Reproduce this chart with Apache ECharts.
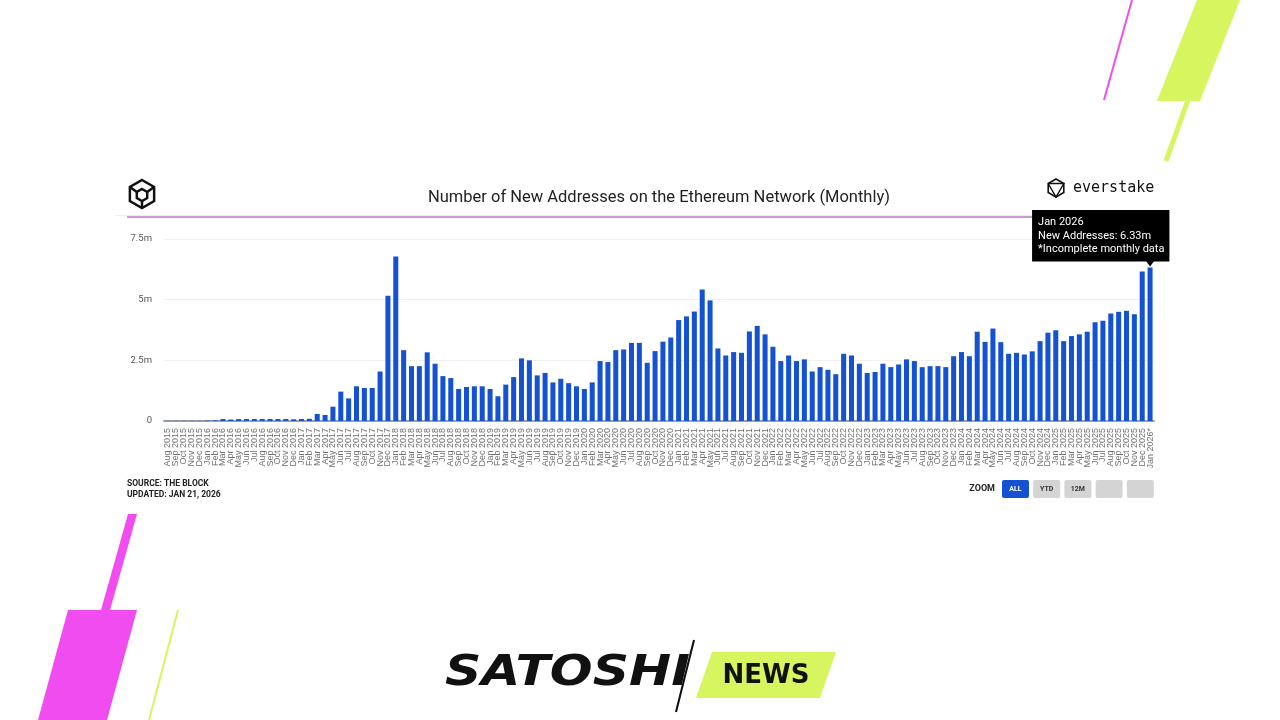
<!DOCTYPE html>
<html>
<head>
<meta charset="utf-8">
<script src="https://cdn.jsdelivr.net/npm/echarts@6/dist/echarts.min.js"></script>
<style>
html,body{margin:0;padding:0;background:#fff;}
#chart{width:1280px;height:720px;}
</style>
</head>
<body>
<div id="chart"></div>
<script>
// Month categories (tick labels)
const categories = [
  'Aug 2015','Sep 2015','Oct 2015','Nov 2015','Dec 2015',
  'Jan 2016','Feb 2016','Mar 2016','Apr 2016','May 2016','Jun 2016','Jul 2016','Aug 2016','Sep 2016','Oct 2016','Nov 2016','Dec 2016',
  'Jan 2017','Feb 2017','Mar 2017','Apr 2017','May 2017','Jun 2017','Jul 2017','Aug 2017','Sep 2017','Oct 2017','Nov 2017','Dec 2017',
  'Jan 2018','Feb 2018','Mar 2018','Apr 2018','May 2018','Jun 2018','Jul 2018','Aug 2018','Sep 2018','Oct 2018','Nov 2018','Dec 2018',
  'Jan 2019','Feb 2019','Mar 2019','Apr 2019','May 2019','Jun 2019','Jul 2019','Aug 2019','Sep 2019','Oct 2019','Nov 2019','Dec 2019',
  'Jan 2020','Feb 2020','Mar 2020','Apr 2020','May 2020','Jun 2020','Jul 2020','Aug 2020','Sep 2020','Oct 2020','Nov 2020','Dec 2020',
  'Jan 2021','Feb 2021','Mar 2021','Apr 2021','May 2021','Jun 2021','Jul 2021','Aug 2021','Sep 2021','Oct 2021','Nov 2021','Dec 2021',
  'Jan 2022','Feb 2022','Mar 2022','Apr 2022','May 2022','Jun 2022','Jul 2022','Aug 2022','Sep 2022','Oct 2022','Nov 2022','Dec 2022',
  'Jan 2023','Feb 2023','Mar 2023','Apr 2023','May 2023','Jun 2023','Jul 2023','Aug 2023','Sep 2023','Oct 2023','Nov 2023','Dec 2023',
  'Jan 2024','Feb 2024','Mar 2024','Apr 2024','May 2024','Jun 2024','Jul 2024','Aug 2024','Sep 2024','Oct 2024','Nov 2024','Dec 2024',
  'Jan 2025','Feb 2025','Mar 2025','Apr 2025','May 2025','Jun 2025','Jul 2025','Aug 2025','Sep 2025','Oct 2025','Nov 2025','Dec 2025',
  'Jan 2026*'
];

// New addresses per month, millions
const newAddresses = [
  0.01,0.01,0.01,0.01,0.01,
  0.02,0.03,0.08,0.06,0.08,0.08,0.08,0.08,0.08,0.08,0.08,0.07,
  0.08,0.09,0.29,0.25,0.59,1.21,0.93,1.43,1.36,1.36,2.04,5.16,
  6.78,2.92,2.26,2.26,2.83,2.36,1.85,1.77,1.32,1.40,1.43,1.43,
  1.32,1.02,1.50,1.81,2.58,2.50,1.88,1.98,1.59,1.74,1.56,1.43,
  1.32,1.59,2.47,2.43,2.92,2.95,3.22,3.22,2.40,2.88,3.27,3.44,
  4.16,4.31,4.51,5.42,4.97,2.99,2.70,2.84,2.81,3.69,3.92,3.57,
  3.06,2.47,2.70,2.47,2.54,2.04,2.22,2.11,1.93,2.77,2.70,2.36,
  1.98,2.02,2.36,2.22,2.33,2.54,2.47,2.22,2.26,2.26,2.22,2.67,
  2.84,2.67,3.68,3.26,3.81,3.25,2.77,2.81,2.74,2.87,3.29,3.64,
  3.74,3.29,3.50,3.57,3.68,4.07,4.13,4.43,4.50,4.54,4.40,6.16,
  6.33
];

// Y-axis ticks
const yTicks = [0, 2.5, 5, 7.5];
const yTickLabels = ['0', '2.5m', '5m', '7.5m'];

const tooltipLines = ['Jan 2026', 'New Addresses: 6.33m', '*Incomplete monthly data'];
const footerLines = ['SOURCE: THE BLOCK', 'UPDATED: JAN 21, 2026'];
const zoomButtons = ['ALL', 'YTD', '12M', '', ''];

const lastIdx = newAddresses.length - 1;
const seriesData = newAddresses.map((v, i) => {
  if (i !== lastIdx) return v;
  return {
    value: v,
    label: {
      show: true,
      position: 'top',
      distance: 6,
      offset: [-118, 0],
      formatter: tooltipLines.join('\n'),
      backgroundColor: '#000',
      color: '#fff',
      fontFamily: 'Roboto, Arial, sans-serif',
      fontSize: 11,
      lineHeight: 13.5,
      align: 'left',
      padding: [6, 5, 5, 6]
    }
  };
});

function hexPts(cx, cy, r) {
  const pts = [];
  for (let k = 0; k < 6; k++) {
    const a = (-90 + 60 * k) * Math.PI / 180;
    pts.push([cx + r * Math.cos(a), cy + r * Math.sin(a)]);
  }
  return pts;
}

const graphics = [];
// decorative shapes
const lime = '#d6f55e', magenta = '#f04cf0';
graphics.push({type:'polygon', shape:{points:[[1197,0],[1240,0],[1200,101],[1157,101]]}, style:{fill:lime}});
graphics.push({type:'line', shape:{x1:1188,y1:100,x2:1166,y2:161}, style:{stroke:lime, lineWidth:5}});
graphics.push({type:'line', shape:{x1:1132,y1:0,x2:1104,y2:100}, style:{stroke:magenta, lineWidth:2}});
graphics.push({type:'polygon', shape:{points:[[128,514],[137,514],[110,610],[101,610]]}, style:{fill:magenta}});
graphics.push({type:'polygon', shape:{points:[[68,610],[137,610],[107,720],[38,720]]}, style:{fill:magenta}});
graphics.push({type:'line', shape:{x1:178,y1:610,x2:149,y2:720}, style:{stroke:lime, lineWidth:2}});

// SATOSHI NEWS logo
graphics.push({type:'text', x:445, y:674, scaleX:1.2, originX:0, originY:0, style:{text:'SATOSHI', fill:'#111', font:'italic 900 42px "DejaVu Sans", sans-serif', textVerticalAlign:'middle', textAlign:'left'}});
graphics.push({type:'line', shape:{x1:694,y1:640,x2:676,y2:712}, style:{stroke:'#111', lineWidth:2}});
graphics.push({type:'polygon', shape:{points:[[712,652],[836,652],[820,698],[696,698]]}, style:{fill:lime}});
graphics.push({type:'text', x:766, y:676, style:{text:'NEWS', fill:'#111', font:'bold 26px "DejaVu Sans", sans-serif', textAlign:'center', textVerticalAlign:'middle'}});

// header line
graphics.push({type:'line', shape:{x1:115,y1:215.5,x2:1165,y2:215.5}, style:{stroke:'#eeeeee', lineWidth:1}});
graphics.push({type:'line', shape:{x1:127,y1:217,x2:1160,y2:217}, style:{stroke:'#cf98d6', lineWidth:2}});

// The Block logo
graphics.push({type:'polygon', shape:{points:hexPts(142,194,14)}, style:{fill:'none', stroke:'#111', lineWidth:2.5}});
graphics.push({type:'polygon', shape:{points:hexPts(142,195,6)}, style:{fill:'none', stroke:'#111', lineWidth:2.5}});
(function(){
  const o = hexPts(142,194,14), inn = hexPts(142,195,6);
  [1,3,5].forEach(k => graphics.push({type:'line', shape:{x1:o[k][0],y1:o[k][1],x2:inn[k][0],y2:inn[k][1]}, style:{stroke:'#111', lineWidth:2.5}}));
})();

// everstake logo
graphics.push({type:'polygon', shape:{points:hexPts(1056,188,9)}, style:{fill:'none', stroke:'#111', lineWidth:1.6}});
(function(){
  const o = hexPts(1056,188,9);
  graphics.push({type:'polyline', shape:{points:[o[5],o[1],o[3],o[5]]}, style:{fill:'none', stroke:'#111', lineWidth:1.4}});
})();
graphics.push({type:'text', x:1073, y:188, style:{text:'everstake', fill:'#111', font:'15px "DejaVu Sans Mono", monospace', textVerticalAlign:'middle'}});

// footer
footerLines.forEach((t, i) => graphics.push({type:'text', x:127, y:484 + i*10.5, style:{text:t, fill:'#222', font:'bold 8.5px Roboto, Arial, sans-serif', textVerticalAlign:'middle'}}));
graphics.push({type:'text', x:995, y:489, style:{text:'ZOOM', fill:'#222', font:'bold 9px Roboto, Arial, sans-serif', textAlign:'right', textVerticalAlign:'middle'}});
zoomButtons.forEach((t, i) => {
  const x = 1002 + i*31.2;
  graphics.push({type:'rect', shape:{x:x, y:480, width:27, height:18, r:2}, style:{fill: i === 0 ? '#1452d0' : '#d4d4d4'}});
  if (t) graphics.push({type:'text', x:x+13.5, y:489.5, style:{text:t, fill: i === 0 ? '#fff' : '#333', font:'bold 7px Roboto, Arial, sans-serif', textAlign:'center', textVerticalAlign:'middle'}});
});

const chart = echarts.init(document.getElementById('chart'), null, {renderer:'canvas'});
chart.setOption({
  backgroundColor: '#fff',
  animation: false,
  title: {
    text: 'Number of New Addresses on the Ethereum Network (Monthly)',
    left: 654, top: 184, textAlign: 'center',
    textStyle: {fontFamily: 'Roboto, Arial, sans-serif', fontSize: 16.5, fontWeight: 'normal', color: '#222'}
  },
  grid: {left: 164, right: 126, top: 239, bottom: 299, containLabel: false},
  xAxis: {
    type: 'category',
    data: categories,
    axisTick: {show: false},
    axisLine: {lineStyle: {color: '#a0a0a0', width: 2}},
    axisLabel: {
      interval: 0, rotate: 90, fontSize: 9, color: '#707070',
      fontFamily: '"Liberation Sans", Arial, sans-serif', margin: 7
    }
  },
  yAxis: {
    type: 'value', min: 0, max: 7.5, interval: 2.5,
    axisLine: {show: false}, axisTick: {show: false},
    splitLine: {lineStyle: {color: '#f0f0f0', width: 1}},
    axisLabel: {
      color: '#555', fontSize: 9.5, fontFamily: 'Roboto, Arial, sans-serif', margin: 12,
      formatter: v => { const k = yTicks.indexOf(v); return k >= 0 ? yTickLabels[k] : ''; }
    }
  },
  series: [{
    type: 'bar',
    data: seriesData,
    barWidth: '64%',
    itemStyle: {color: '#1552d1'},
    markPoint: {
      silent: true,
      data: [{coord: [categories[lastIdx], newAddresses[lastIdx]], symbol: 'triangle', symbolRotate: 180, symbolSize: [9, 6], symbolOffset: [0, -4], itemStyle: {color: '#000'}, label: {show: false}}]
    }
  }],
  graphic: graphics
});
</script>
</body>
</html>
